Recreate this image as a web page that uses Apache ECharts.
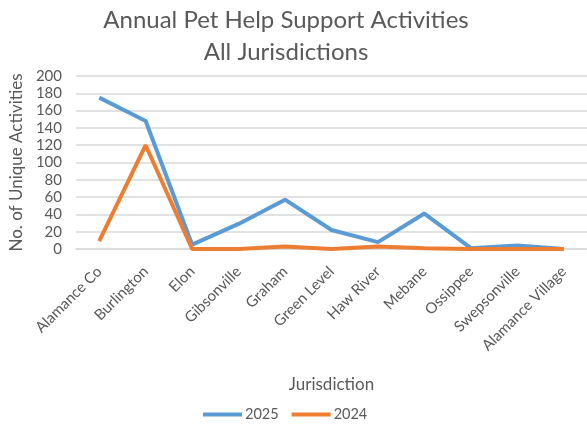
<!DOCTYPE html>
<html><head><meta charset="utf-8">
<script src="https://cdn.jsdelivr.net/npm/echarts@6/dist/echarts.min.js"></script>
<style>html,body{margin:0;padding:0;background:#fff}#c{width:587px;height:425px}</style>
</head><body><div id="c"></div>
<script>
const categories = ["Alamance Co","Burlington","Elon","Gibsonville","Graham","Green Level","Haw River","Mebane","Ossippee","Swepsonville","Alamance Village"];
const values2025 = [175,148,5,29,57,22,8,41,1,4,0];
const values2024 = [9,120,0,0,3,0,3,1,0,0,0];
const yTicks = [0,20,40,60,80,100,120,140,160,180,200];
const font = "Lato, 'Open Sans', sans-serif";
const grey = "#595959";
const chart = echarts.init(document.getElementById('c'));
chart.setOption({
  animation:false,
  title:{text:"Annual Pet Help Support Activities\nAll Jurisdictions",left:281,textAlign:'center',top:-1,
    textStyle:{fontFamily:font,fontSize:24,fontWeight:'normal',color:grey,lineHeight:32}},
  legend:{top:402,left:198,itemWidth:39,itemHeight:4,itemGap:13,icon:'rect',
    textStyle:{fontFamily:font,fontSize:14.5,color:grey,padding:[0,0,0,-2]},
    data:["2025","2024"]},
  grid:{left:70,top:76,width:522,height:173,containLabel:false},
  xAxis:{type:'category',data:categories,boundaryGap:true,
    axisLine:{lineStyle:{color:'#d9d9d9',width:1.5}},axisTick:{show:false},
    axisLabel:{rotate:45,fontFamily:font,fontSize:15,color:grey,margin:20,interval:0},
    name:"Jurisdiction",nameLocation:'middle',nameGap:127,
    nameTextStyle:{fontFamily:font,fontSize:17,color:grey}},
  yAxis:{type:'value',min:yTicks[0],max:yTicks[yTicks.length-1],interval:20,
    axisLine:{show:false},axisTick:{show:false},
    splitLine:{lineStyle:{color:'#d9d9d9',width:1.5}},
    axisLabel:{fontFamily:font,fontSize:15,color:grey,margin:14},
    name:"No. of Unique Activities",nameLocation:'middle',nameGap:48,
    nameTextStyle:{fontFamily:font,fontSize:17,color:grey}},
  series:[
    {name:"2025",type:'line',data:values2025,symbol:'none',lineStyle:{width:4,color:'#5B9BD5'},itemStyle:{color:'#5B9BD5'}},
    {name:"2024",type:'line',data:values2024,symbol:'none',lineStyle:{width:4,color:'#ED7D31'},itemStyle:{color:'#ED7D31'}}
  ]
});
</script></body></html>
